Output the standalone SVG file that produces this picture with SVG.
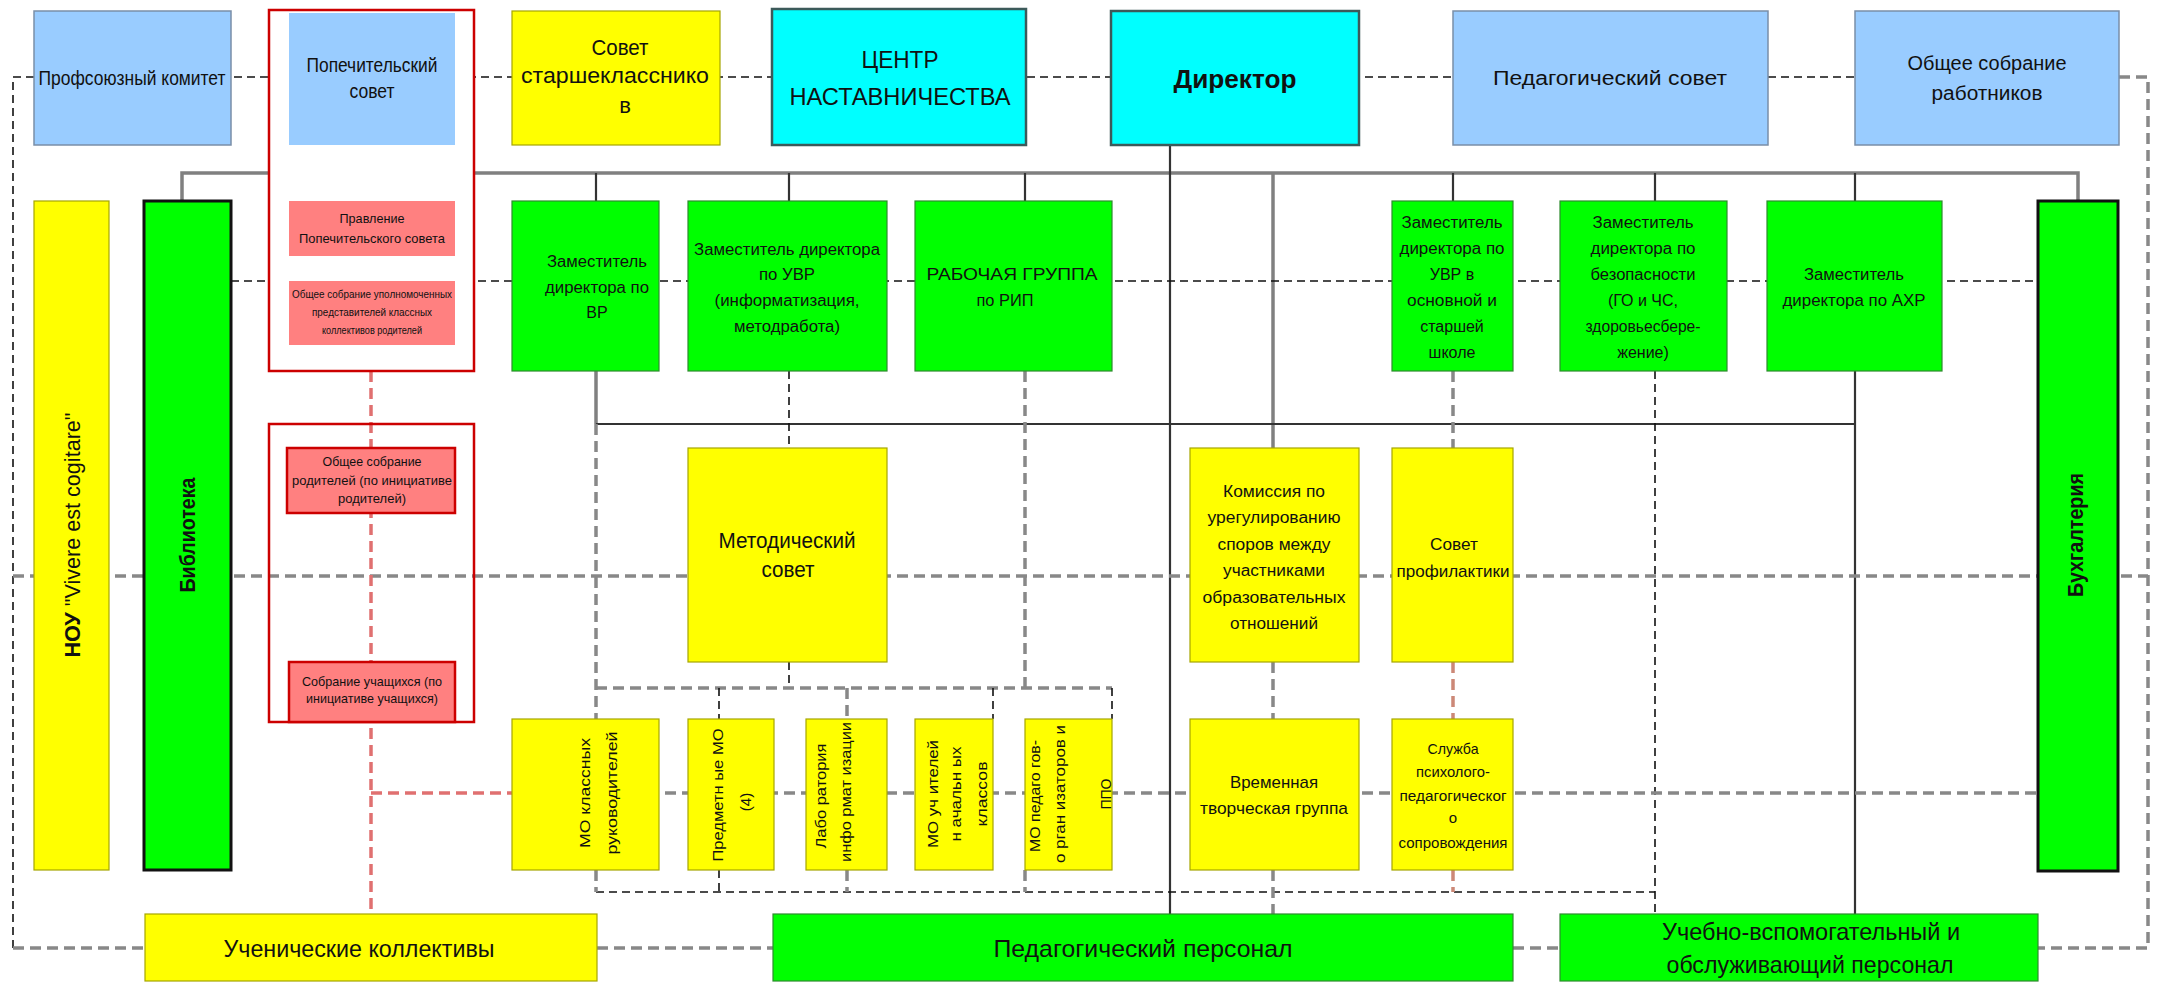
<svg xmlns="http://www.w3.org/2000/svg" width="2179" height="985" viewBox="0 0 2179 985">
<style>
.blue{fill:#99ccff;stroke:#7a8ea8;stroke-width:1.5}
.yel{fill:#ffff00;stroke:#a6a600;stroke-width:1.2}
.grn{fill:#00ff00;stroke:#2e8b2e;stroke-width:1.2}
.cyan{fill:#00ffff;stroke:#3c5a5a;stroke-width:2.5}
.pink{fill:#ff8080}
.pinkb{fill:#ff8080;stroke:#cc0000;stroke-width:2.5}
.redw{fill:#ffffff;stroke:#cc0000;stroke-width:2.5}
.redn{fill:none;stroke:#cc0000;stroke-width:2.5}
.grnk{fill:#00ff00;stroke:#111;stroke-width:3}
.sg{stroke:#808080;stroke-width:3.5;fill:none}
.sk{stroke:#333;stroke-width:2.2;fill:none}
.dk{stroke:#111;stroke-width:1.6;stroke-dasharray:8 5;fill:none}
.dg{stroke:#888;stroke-width:3.5;stroke-dasharray:11 6;fill:none}
.dp{stroke:#e07070;stroke-width:3.5;stroke-dasharray:11 6;fill:none}
.db{stroke:#cc8877;stroke-width:3.5;stroke-dasharray:11 6;fill:none}
text{font-family:"Liberation Sans",Arial,sans-serif;fill:#111;text-anchor:middle}
.t20{font-size:20px}
.t22{font-size:22px}
.t24{font-size:24px}
.t16{font-size:16px}
.t15{font-size:15px}
.t13{font-size:13px}
.t10{font-size:10px}
.b{font-weight:bold}
</style>

<g id="connectors">
  <!-- top dashed row -->
  <path class="dk" d="M13,948 V77 H2119"/>
  <path class="dg" d="M2119,77 H2148 V948 H2038"/>
  <path class="dg" d="M13,948 H145"/>
  <path class="dg" d="M597,948 H773"/>
  <path class="dg" d="M1513,948 H1560"/>
  <!-- hierarchy bar -->
  <path class="sg" d="M182,201 V173 H2078 V201"/>
  <path class="sk" d="M596,173 V201 M789,173 V201 M1025,173 V201 M1453,173 V201 M1655,173 V201 M1855,173 V201"/>
  <path class="sg" d="M1273,173 V448"/>
  <path class="sk" d="M1170,145 V914"/>
  <!-- deputies row dashed -->
  <path class="dk" d="M231,281 H2038"/>
  <!-- middle solid -->
  <path class="sg" d="M596,371 V424"/>
  <path class="sk" d="M596,424 H1855 M1855,371 V914"/>
  <path class="dk" d="M789,371 V448 M1655,371 V914"/>
  <path class="dg" d="M1453,371 V448"/>
  <path class="dg" d="M596,424 V719 M1025,371 V688"/>
  <!-- big middle dashed -->
  <path class="dg" d="M13,576 H2148"/>
  <!-- МО grid -->
  <path class="dk" d="M789,662 V688"/>
  <path class="dg" d="M596,688 H1112"/>
  <path class="dk" d="M719,688 V719 M993,688 V719 M1112,688 V719"/>
  <path class="dg" d="M847,688 V719"/>
  <path class="dk" d="M596,892 H1655"/>
  <path class="dg" d="M596,870 V892 M847,870 V892 M1025,870 V892"/>
  <path class="dk" d="M719,870 V892"/>
  <path class="dg" d="M1273,662 V719 M1273,870 V914"/>
  <path class="db" d="M1453,662 V719 M1453,870 V892"/>
  <path class="dg" d="M512,793 H2038"/>
  <path class="dp" d="M371,371 V914 M371,793 H512"/>
</g>

<g id="n-prof"><rect class="blue" x="34" y="11" width="197" height="134"/>
<text class="t20" x="132" y="85" textLength="187" lengthAdjust="spacingAndGlyphs">Профсоюзный комитет</text></g>

<g id="n-popech">
<rect class="redw" x="269" y="10" width="205" height="361"/>
<rect fill="#99ccff" x="289" y="13" width="166" height="132"/>
<text class="t20" x="372" y="72" textLength="131" lengthAdjust="spacingAndGlyphs">Попечительский</text>
<text class="t20" x="372" y="98" textLength="45" lengthAdjust="spacingAndGlyphs">совет</text>
<rect class="pink" x="289" y="201" width="166" height="55"/>
<text class="t13" x="372" y="223" textLength="65" lengthAdjust="spacingAndGlyphs">Правление</text>
<text class="t13" x="372" y="243" textLength="146" lengthAdjust="spacingAndGlyphs">Попечительского совета</text>
<rect class="pink" x="289" y="281" width="166" height="64"/>
<text class="t10" x="372" y="298" textLength="160" lengthAdjust="spacingAndGlyphs">Общее собрание уполномоченных</text>
<text class="t10" x="372" y="316" textLength="120" lengthAdjust="spacingAndGlyphs">представителей классных</text>
<text class="t10" x="372" y="334" textLength="100" lengthAdjust="spacingAndGlyphs">коллективов родителей</text>
</g>

<g id="n-star"><rect class="yel" x="512" y="11" width="208" height="134"/>
<text class="t22" x="620" y="55" textLength="57" lengthAdjust="spacingAndGlyphs">Совет</text>
<text class="t22" x="615" y="83" textLength="188" lengthAdjust="spacingAndGlyphs">старшекласснико</text>
<text class="t22" x="625" y="113">в</text></g>

<g id="n-centr"><rect class="cyan" x="772" y="9" width="254" height="136"/>
<text class="t24" x="900" y="68" textLength="77" lengthAdjust="spacingAndGlyphs">ЦЕНТР</text>
<text class="t24" x="900" y="105" textLength="221" lengthAdjust="spacingAndGlyphs">НАСТАВНИЧЕСТВА</text></g>

<g id="n-dir"><rect class="cyan" x="1111" y="11" width="248" height="134"/>
<text class="t24 b" style="font-size:26px" x="1235" y="88" textLength="123" lengthAdjust="spacingAndGlyphs">Директор</text></g>

<g id="n-pedsov"><rect class="blue" x="1453" y="11" width="315" height="134"/>
<text class="t20" x="1610" y="85" textLength="234" lengthAdjust="spacingAndGlyphs">Педагогический совет</text></g>

<g id="n-obsh"><rect class="blue" x="1855" y="11" width="264" height="134"/>
<text class="t20" x="1987" y="70" textLength="159" lengthAdjust="spacingAndGlyphs">Общее собрание</text>
<text class="t20" x="1987" y="100" textLength="111" lengthAdjust="spacingAndGlyphs">работников</text></g>

<g id="n-nou"><rect class="yel" x="34" y="201" width="75" height="669"/>
<text class="t22" transform="translate(80,535) rotate(-90)" x="0" y="0" textLength="245" lengthAdjust="spacingAndGlyphs"><tspan class="b">НОУ</tspan> "Vivere est cogitare"</text></g>

<g id="n-bibl"><rect class="grnk" x="144" y="201" width="87" height="669"/>
<text class="t22 b" transform="translate(195,535) rotate(-90)" x="0" y="0" textLength="115" lengthAdjust="spacingAndGlyphs">Библиотека</text></g>

<g id="n-zamvr"><rect class="grn" x="512" y="201" width="147" height="170"/>
<text class="t16" x="597" y="267" textLength="100" lengthAdjust="spacingAndGlyphs">Заместитель</text>
<text class="t16" x="597" y="293" textLength="104" lengthAdjust="spacingAndGlyphs">директора по</text>
<text class="t16" x="597" y="318">ВР</text></g>

<g id="n-zamuvr"><rect class="grn" x="688" y="201" width="199" height="170"/>
<text class="t16" x="787" y="255" textLength="186" lengthAdjust="spacingAndGlyphs">Заместитель директора</text>
<text class="t16" x="787" y="280" textLength="56" lengthAdjust="spacingAndGlyphs">по УВР</text>
<text class="t16" x="787" y="306" textLength="145" lengthAdjust="spacingAndGlyphs">(информатизация,</text>
<text class="t16" x="787" y="332" textLength="106" lengthAdjust="spacingAndGlyphs">методработа)</text></g>

<g id="n-rip"><rect class="grn" x="915" y="201" width="197" height="170"/>
<text class="t16" x="1012" y="280" textLength="171" lengthAdjust="spacingAndGlyphs">РАБОЧАЯ ГРУППА</text>
<text class="t16" x="1005" y="306" textLength="57" lengthAdjust="spacingAndGlyphs">по РИП</text></g>

<g id="n-zamuvr2"><rect class="grn" x="1392" y="201" width="121" height="170"/>
<text class="t16" x="1452" y="228" textLength="101" lengthAdjust="spacingAndGlyphs">Заместитель</text>
<text class="t16" x="1452" y="254" textLength="105" lengthAdjust="spacingAndGlyphs">директора по</text>
<text class="t16" x="1452" y="280">УВР в</text>
<text class="t16" x="1452" y="306" textLength="90" lengthAdjust="spacingAndGlyphs">основной и</text>
<text class="t16" x="1452" y="332">старшей</text>
<text class="t16" x="1452" y="358">школе</text></g>

<g id="n-zambez"><rect class="grn" x="1560" y="201" width="167" height="170"/>
<text class="t16" x="1643" y="228" textLength="101" lengthAdjust="spacingAndGlyphs">Заместитель</text>
<text class="t16" x="1643" y="254" textLength="105" lengthAdjust="spacingAndGlyphs">директора по</text>
<text class="t16" x="1643" y="280" textLength="105" lengthAdjust="spacingAndGlyphs">безопасности</text>
<text class="t16" x="1643" y="306">(ГО и ЧС,</text>
<text class="t16" x="1643" y="332" textLength="115" lengthAdjust="spacingAndGlyphs">здоровьесбере-</text>
<text class="t16" x="1643" y="358">жение)</text></g>

<g id="n-zamahr"><rect class="grn" x="1767" y="201" width="175" height="170"/>
<text class="t16" x="1854" y="280" textLength="100" lengthAdjust="spacingAndGlyphs">Заместитель</text>
<text class="t16" x="1854" y="306" textLength="143" lengthAdjust="spacingAndGlyphs">директора по АХР</text></g>

<g id="n-buh"><rect class="grnk" x="2038" y="201" width="80" height="670"/>
<text class="t22 b" transform="translate(2083,535) rotate(-90)" x="0" y="0" textLength="124" lengthAdjust="spacingAndGlyphs">Бухгалтерия</text></g>

<g id="n-roditeli">
<rect class="redn" x="269" y="424" width="205" height="298"/>
<rect class="pinkb" x="287" y="448" width="168" height="65"/>
<text class="t13" x="372" y="466" textLength="99" lengthAdjust="spacingAndGlyphs">Общее собрание</text>
<text class="t13" x="372" y="485" textLength="160" lengthAdjust="spacingAndGlyphs">родителей (по инициативе</text>
<text class="t13" x="372" y="503" textLength="68" lengthAdjust="spacingAndGlyphs">родителей)</text>
<rect class="pinkb" x="289" y="662" width="166" height="60"/>
<text class="t13" x="372" y="686" textLength="140" lengthAdjust="spacingAndGlyphs">Собрание учащихся (по</text>
<text class="t13" x="372" y="703" textLength="132" lengthAdjust="spacingAndGlyphs">инициативе учащихся)</text>
</g>

<g id="n-metod"><rect class="yel" x="688" y="448" width="199" height="214"/>
<text class="t22" x="787" y="548" textLength="137" lengthAdjust="spacingAndGlyphs">Методический</text>
<text class="t22" x="788" y="577" textLength="53" lengthAdjust="spacingAndGlyphs">совет</text></g>

<g id="n-komis"><rect class="yel" x="1190" y="448" width="169" height="214"/>
<text class="t16" x="1274" y="497" textLength="102" lengthAdjust="spacingAndGlyphs">Комиссия по</text>
<text class="t16" x="1274" y="523" textLength="133" lengthAdjust="spacingAndGlyphs">урегулированию</text>
<text class="t16" x="1274" y="550" textLength="113" lengthAdjust="spacingAndGlyphs">споров между</text>
<text class="t16" x="1274" y="576" textLength="102" lengthAdjust="spacingAndGlyphs">участниками</text>
<text class="t16" x="1274" y="603" textLength="143" lengthAdjust="spacingAndGlyphs">образовательных</text>
<text class="t16" x="1274" y="629" textLength="88" lengthAdjust="spacingAndGlyphs">отношений</text></g>

<g id="n-sovprof"><rect class="yel" x="1392" y="448" width="121" height="214"/>
<text class="t16" style="font-size:17px" x="1454" y="550" textLength="48" lengthAdjust="spacingAndGlyphs">Совет</text>
<text class="t16" style="font-size:17px" x="1453" y="577" textLength="113" lengthAdjust="spacingAndGlyphs">профилактики</text></g>

<g id="n-mo1"><rect class="yel" x="512" y="719" width="147" height="151"/>
<text class="t15" transform="translate(590,793) rotate(-90)" x="0" y="0" textLength="110" lengthAdjust="spacingAndGlyphs">МО  классных</text>
<text class="t15" transform="translate(617,793) rotate(-90)" x="0" y="0" textLength="123" lengthAdjust="spacingAndGlyphs">руководителей</text></g>

<g id="n-mo2"><rect class="yel" x="688" y="719" width="86" height="151"/>
<text class="t15" transform="translate(723,795) rotate(-90)" x="0" y="0" textLength="133" lengthAdjust="spacingAndGlyphs">Предметн ые МО</text>
<text class="t15" transform="translate(751,802) rotate(-90)" x="0" y="0">(4)</text></g>

<g id="n-mo3"><rect class="yel" x="806" y="719" width="81" height="151"/>
<text class="t15" transform="translate(826,796) rotate(-90)" x="0" y="0" textLength="105" lengthAdjust="spacingAndGlyphs">Лабо ратория</text>
<text class="t15" transform="translate(851,792) rotate(-90)" x="0" y="0" textLength="140" lengthAdjust="spacingAndGlyphs">инфо рмат изации</text></g>

<g id="n-mo4"><rect class="yel" x="915" y="719" width="78" height="151"/>
<text class="t15" transform="translate(938,794) rotate(-90)" x="0" y="0" textLength="108" lengthAdjust="spacingAndGlyphs">МО уч ителей</text>
<text class="t15" transform="translate(961,794) rotate(-90)" x="0" y="0" textLength="95" lengthAdjust="spacingAndGlyphs">н ачальн ых</text>
<text class="t15" transform="translate(987,794) rotate(-90)" x="0" y="0" textLength="65" lengthAdjust="spacingAndGlyphs">классов</text></g>

<g id="n-mo5"><rect class="yel" x="1025" y="719" width="87" height="151"/>
<text class="t15" transform="translate(1040,796) rotate(-90)" x="0" y="0" textLength="112" lengthAdjust="spacingAndGlyphs">МО педаго гов-</text>
<text class="t15" transform="translate(1065,794) rotate(-90)" x="0" y="0" textLength="138" lengthAdjust="spacingAndGlyphs">о рган изаторов и</text>
<text class="t15" transform="translate(1111,794) rotate(-90)" x="0" y="0" textLength="31" lengthAdjust="spacingAndGlyphs">ППО</text></g>

<g id="n-vrem"><rect class="yel" x="1190" y="719" width="169" height="151"/>
<text class="t16" style="font-size:17px" x="1274" y="788" textLength="88" lengthAdjust="spacingAndGlyphs">Временная</text>
<text class="t16" style="font-size:17px" x="1274" y="814" textLength="148" lengthAdjust="spacingAndGlyphs">творческая группа</text></g>

<g id="n-sluzh"><rect class="yel" x="1392" y="719" width="121" height="151"/>
<text class="t15" x="1453" y="754" textLength="51" lengthAdjust="spacingAndGlyphs">Служба</text>
<text class="t15" x="1453" y="777" textLength="74" lengthAdjust="spacingAndGlyphs">психолого-</text>
<text class="t15" x="1453" y="801" textLength="107" lengthAdjust="spacingAndGlyphs">педагогическог</text>
<text class="t15" x="1453" y="823">о</text>
<text class="t15" x="1453" y="848" textLength="109" lengthAdjust="spacingAndGlyphs">сопровождения</text></g>

<g id="n-uchen"><rect class="yel" x="145" y="914" width="452" height="67"/>
<text class="t24" x="359" y="957" textLength="271" lengthAdjust="spacingAndGlyphs">Ученические коллективы</text></g>

<g id="n-pedpers"><rect class="grn" x="773" y="914" width="740" height="67"/>
<text class="t24" x="1143" y="957" textLength="299" lengthAdjust="spacingAndGlyphs">Педагогический персонал</text></g>

<g id="n-uchvsp"><rect class="grn" x="1560" y="914" width="478" height="67"/>
<text class="t24" x="1811" y="940" textLength="298" lengthAdjust="spacingAndGlyphs">Учебно-вспомогательный и</text>
<text class="t24" x="1810" y="973" textLength="287" lengthAdjust="spacingAndGlyphs">обслуживающий персонал</text></g>
</svg>
